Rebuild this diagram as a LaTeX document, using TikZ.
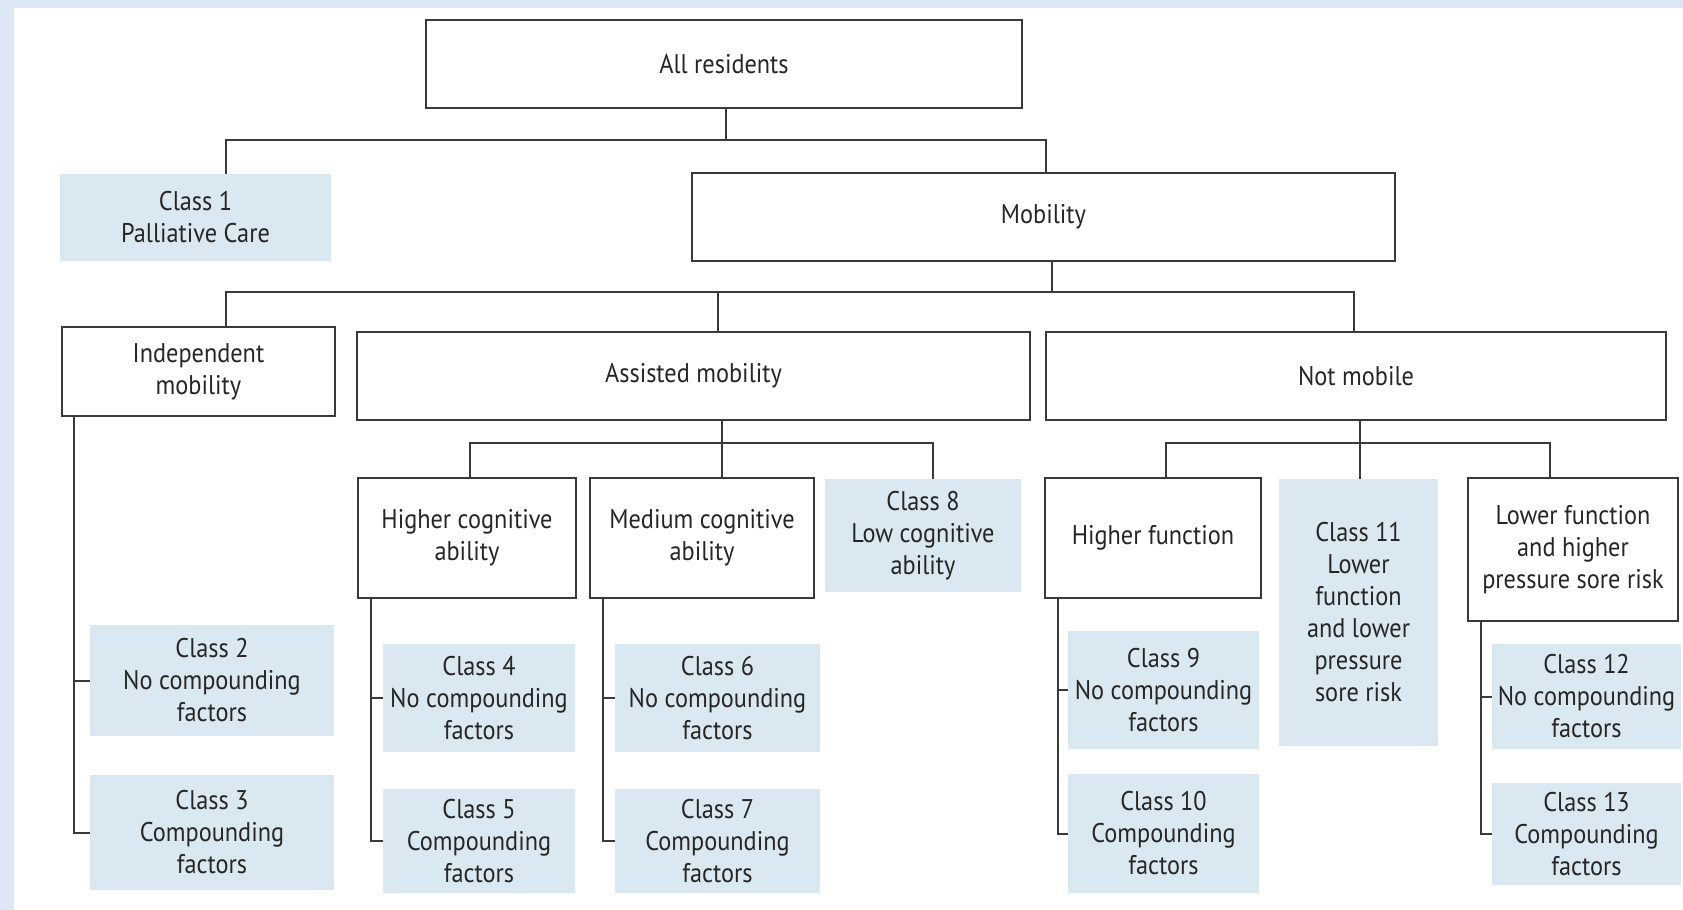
\documentclass[tikz,border=0pt]{standalone}
\usepackage{fontspec}
\setmainfont{PT Sans}[FakeStretch=0.9]
\usepackage{tikz}
\usetikzlibrary{calc}
\definecolor{linegray}{HTML}{3A3A3A}
\definecolor{clsblue}{HTML}{DAE8F1}
\definecolor{framebg}{HTML}{DDE7F6}
\tikzset{%
  box/.style  = {shape=rectangle, draw=linegray, line width=1pt,%
                 fill=white, align=center, inner sep=2pt},%
  cls/.style  = {shape=rectangle, fill=clsblue, align=center, inner sep=2pt},%
  link/.style = {draw=linegray, line width=1pt}%
}

\begin{document}
\begin{tikzpicture}[x=0.5pt,y=-0.5pt,
  every node/.style={font=\fontsize{13.5}{16}\selectfont, text=black!85}]%
	% frame
	\fill[framebg] (0,0) rectangle (1683,910);
	\fill[white] (14,8) rectangle (1683,910);
	\useasboundingbox (0,0) rectangle (1683,910);
	% level 0 and 1
	\node[box, minimum width=298pt, minimum height=44pt] (all) at (724,64) {All residents};
	\node[cls, minimum width=135.5pt, minimum height=43.5pt] (class1) at (195.5,217.5) {Class 1\\Palliative Care};
	\node[box, minimum width=351.5pt, minimum height=44pt] (mob) at (1043.5,217) {Mobility};
	% level 2
	\node[box, minimum width=136.5pt, minimum height=44.5pt] (indep) at (198.5,371.5) {Independent\\mobility};
	\node[box, minimum width=336.5pt, minimum height=44pt] (assist) at (693.5,376) {Assisted mobility};
	\node[box, minimum width=310pt, minimum height=44pt] (notmob) at (1356,376) {Not mobile};
	% level 3
	\node[box, minimum width=109pt, minimum height=60pt] (higcog) at (467,538) {Higher cognitive\\ability};
	\node[box, minimum width=112pt, minimum height=60pt] (medcog) at (702,538) {Medium cognitive\\ability};
	\node[cls, minimum width=98pt, minimum height=56.5pt] (class8) at (923,535.5) {Class 8\\Low cognitive\\ability};
	\node[box, minimum width=108pt, minimum height=60pt] (higfun) at (1153,538) {Higher function};
	\node[cls, minimum width=79.5pt, minimum height=133.5pt] (class11) at (1358.5,612.5) {Class 11\\Lower\\function\\and lower\\pressure\\sore risk};
	\node[box, minimum width=105pt, minimum height=71.5pt] (lowfun) at (1573,549.5) {Lower function\\and higher\\pressure sore risk};
	% leaf classes
	\node[cls, minimum width=122pt, minimum height=55.5pt] (class2) at (212,680.5) {Class 2\\No compounding\\factors};
	\node[cls, minimum width=122pt, minimum height=57.5pt] (class3) at (212,832.5) {Class 3\\Compounding\\factors};
	\node[cls, minimum width=96pt, minimum height=54pt] (class4) at (479,698) {Class 4\\No compounding\\factors};
	\node[cls, minimum width=96pt, minimum height=52pt] (class5) at (479,841) {Class 5\\Compounding\\factors};
	\node[cls, minimum width=102.5pt, minimum height=54pt] (class6) at (717.5,698) {Class 6\\No compounding\\factors};
	\node[cls, minimum width=102.5pt, minimum height=52pt] (class7) at (717.5,841) {Class 7\\Compounding\\factors};
	\node[cls, minimum width=95.5pt, minimum height=59pt] (class9) at (1163.5,690) {Class 9\\No compounding\\factors};
	\node[cls, minimum width=95.5pt, minimum height=59.5pt] (class10) at (1163.5,833.5) {Class 10\\Compounding\\factors};
	\node[cls, minimum width=94.5pt, minimum height=52.5pt] (class12) at (1586.5,696.5) {Class 12\\No compounding\\factors};
	\node[cls, minimum width=94.5pt, minimum height=51pt] (class13) at (1586.5,834) {Class 13\\Compounding\\factors};
	% bus points
	\coordinate (s1) at (726,140);
	\coordinate (d1) at (226,140);
	\coordinate (d2) at (1046,140);
	\coordinate (s2) at (1052,292);
	\coordinate (d3) at (226,292);
	\coordinate (d4) at (718,292);
	\coordinate (d5) at (1354,292);
	\coordinate (d6) at (470,443);
	\coordinate (d7) at (722,443);
	\coordinate (d8) at (933,443);
	\coordinate (d9) at (1166,443);
	\coordinate (d10) at (1360,443);
	\coordinate (d11) at (1550,443);
	% trunk lines
	\coordinate (t1) at (74,0);
	\coordinate (t2) at (371,0);
	\coordinate (t3) at (603,0);
	\coordinate (t4) at (1058,0);
	\coordinate (t5) at (1481,0);
	% connectors
	\draw[link] (s1 |- all.south) -- (s1);
	\draw[link] (d1 |- class1.north) -- (d1) -- (d2) -- (d2 |- mob.north);
	\draw[link] (s2 |- mob.south) -- (s2);
	\draw[link] (d3 |- indep.north) -- (d3) -- (d5) -- (d5 |- notmob.north);
	\draw[link] (d4) -- (d4 |- assist.north);
	\draw[link] (d7 |- assist.south) -- (d7);
	\draw[link] (d6 |- higcog.north) -- (d6) -- (d8) -- (d8 |- class8.north);
	\draw[link] (d7) -- (d7 |- medcog.north);
	\draw[link] (d10 |- notmob.south) -- (d10 |- class11.north);
	\draw[link] (d9 |- higfun.north) -- (d9) -- (d11) -- (d11 |- lowfun.north);
	\draw[link] (t1 |- indep.south) |- (class3.west);
	\draw[link] (class2.west) -- (class2.west -| t1);
	\draw[link] (t2 |- higcog.south) |- (class5.west);
	\draw[link] (class4.west) -- (class4.west -| t2);
	\draw[link] (t3 |- medcog.south) |- (class7.west);
	\draw[link] (class6.west) -- (class6.west -| t3);
	\draw[link] (t4 |- higfun.south) |- (class10.west);
	\draw[link] (class9.west) -- (class9.west -| t4);
	\draw[link] (t5 |- lowfun.south) |- (class13.west);
	\draw[link] (class12.west) -- (class12.west -| t5);
\end{tikzpicture}
\end{document}
